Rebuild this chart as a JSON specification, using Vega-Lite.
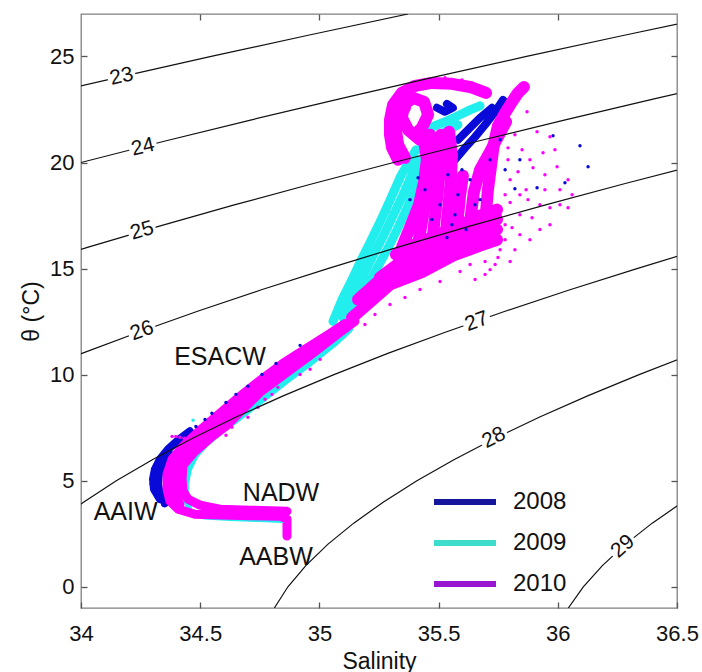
{
"$schema": "https://vega.github.io/schema/vega-lite/v6.json",
"width": 596, "height": 594,
"autosize": {"type": "none"},
"padding": {"left": 81, "top": 14, "right": 25, "bottom": 64},
"background": "white",
"config": {
 "font": "Liberation Sans",
 "view": {"stroke": "#808080", "strokeWidth": 1.3},
 "axis": {"domain": false, "grid": false, "tickColor": "#555555", "tickSize": -6, "tickWidth": 1.3, "labelFont": "Liberation Sans", "labelFontSize": 22, "labelColor": "#111111", "titleFont": "Liberation Sans", "titleFontSize": 23, "titleFontWeight": "normal", "titleColor": "#111111", "labelFlush": false, "labelOverlap": false}
},
"datasets": {
 "casts": [
{"y":"2008","c":"b1","k":1,"s":34.331,"t":4.13},{"y":"2008","c":"b1","k":2,"s":34.306,"t":4.6},{"y":"2008","c":"b1","k":3,"s":34.302,"t":5.07},{"y":"2008","c":"b1","k":4,"s":34.31,"t":5.54},{"y":"2008","c":"b1","k":5,"s":34.331,"t":6.01},{"y":"2008","c":"b1","k":6,"s":34.365,"t":6.48},{"y":"2008","c":"b1","k":7,"s":34.407,"t":6.91},{"y":"2008","c":"b1","k":8,"s":34.457,"t":7.33},
{"y":"2008","c":"b2","k":1,"s":34.352,"t":3.94},{"y":"2008","c":"b2","k":2,"s":34.331,"t":4.36},{"y":"2008","c":"b2","k":3,"s":34.323,"t":4.84},{"y":"2008","c":"b2","k":4,"s":34.327,"t":5.31},{"y":"2008","c":"b2","k":5,"s":34.344,"t":5.78},{"y":"2008","c":"b2","k":6,"s":34.373,"t":6.25},
{"y":"2008","c":"b4","k":1,"s":35.569,"t":20.13},{"y":"2008","c":"b4","k":2,"s":35.611,"t":20.69},{"y":"2008","c":"b4","k":3,"s":35.653,"t":21.21},{"y":"2008","c":"b4","k":4,"s":35.695,"t":21.78},{"y":"2008","c":"b4","k":5,"s":35.737,"t":22.39},{"y":"2008","c":"b4","k":6,"s":35.77,"t":22.95},
{"y":"2008","c":"b5","k":1,"s":35.581,"t":21.07},{"y":"2008","c":"b5","k":2,"s":35.623,"t":21.54},{"y":"2008","c":"b5","k":3,"s":35.674,"t":22.11},{"y":"2008","c":"b5","k":4,"s":35.724,"t":22.58},
{"y":"2008","c":"b6","k":1,"s":35.493,"t":22.58},{"y":"2008","c":"b6","k":2,"s":35.527,"t":22.39},{"y":"2008","c":"b6","k":3,"s":35.56,"t":22.58},{"y":"2008","c":"b6","k":4,"s":35.535,"t":22.76},
{"y":"2009","c":"c1","k":1,"s":34.864,"t":3.14},{"y":"2009","c":"c1","k":2,"s":34.751,"t":3.19},{"y":"2009","c":"c1","k":3,"s":34.625,"t":3.24},{"y":"2009","c":"c1","k":4,"s":34.52,"t":3.31},{"y":"2009","c":"c1","k":5,"s":34.457,"t":3.56},{"y":"2009","c":"c1","k":6,"s":34.44,"t":4.13},{"y":"2009","c":"c1","k":7,"s":34.44,"t":4.84},{"y":"2009","c":"c1","k":8,"s":34.453,"t":5.54},{"y":"2009","c":"c1","k":9,"s":34.482,"t":6.2},{"y":"2009","c":"c1","k":10,"s":34.524,"t":6.72},{"y":"2009","c":"c1","k":11,"s":34.583,"t":7.28},{"y":"2009","c":"c1","k":12,"s":34.667,"t":7.99},{"y":"2009","c":"c1","k":13,"s":34.759,"t":8.79},{"y":"2009","c":"c1","k":14,"s":34.86,"t":9.68},{"y":"2009","c":"c1","k":15,"s":34.961,"t":10.53},{"y":"2009","c":"c1","k":16,"s":35.065,"t":11.47},{"y":"2009","c":"c1","k":17,"s":35.128,"t":12.13},
{"y":"2009","c":"c2","k":1,"s":35.057,"t":12.51},{"y":"2009","c":"c2","k":2,"s":35.095,"t":13.54},{"y":"2009","c":"c2","k":3,"s":35.137,"t":14.48},{"y":"2009","c":"c2","k":4,"s":35.17,"t":15.28},{"y":"2009","c":"c2","k":5,"s":35.212,"t":16.22},{"y":"2009","c":"c2","k":6,"s":35.263,"t":17.4},{"y":"2009","c":"c2","k":7,"s":35.305,"t":18.44},{"y":"2009","c":"c2","k":8,"s":35.342,"t":19.38},{"y":"2009","c":"c2","k":9,"s":35.38,"t":20.13},{"y":"2009","c":"c2","k":10,"s":35.405,"t":20.6},
{"y":"2009","c":"c3","k":1,"s":35.099,"t":12.69},{"y":"2009","c":"c3","k":2,"s":35.137,"t":13.64},{"y":"2009","c":"c3","k":3,"s":35.179,"t":14.58},{"y":"2009","c":"c3","k":4,"s":35.221,"t":15.52},{"y":"2009","c":"c3","k":5,"s":35.267,"t":16.51},{"y":"2009","c":"c3","k":6,"s":35.313,"t":17.59},{"y":"2009","c":"c3","k":7,"s":35.351,"t":18.48},{"y":"2009","c":"c3","k":8,"s":35.384,"t":19.33},{"y":"2009","c":"c3","k":9,"s":35.414,"t":20.13},
{"y":"2009","c":"c4","k":1,"s":35.128,"t":12.79},{"y":"2009","c":"c4","k":2,"s":35.179,"t":13.73},{"y":"2009","c":"c4","k":3,"s":35.229,"t":14.76},{"y":"2009","c":"c4","k":4,"s":35.284,"t":15.89},{"y":"2009","c":"c4","k":5,"s":35.33,"t":16.93},{"y":"2009","c":"c4","k":6,"s":35.372,"t":17.96},{"y":"2009","c":"c4","k":7,"s":35.405,"t":18.91},{"y":"2009","c":"c4","k":8,"s":35.43,"t":19.75},
{"y":"2009","c":"c5","k":1,"s":35.409,"t":21.31},{"y":"2009","c":"c5","k":2,"s":35.464,"t":21.64},{"y":"2009","c":"c5","k":3,"s":35.527,"t":21.92},{"y":"2009","c":"c5","k":4,"s":35.59,"t":22.25},{"y":"2009","c":"c5","k":5,"s":35.632,"t":22.48},{"y":"2009","c":"c5","k":6,"s":35.674,"t":22.67},
{"y":"2009","c":"c6","k":1,"s":35.422,"t":20.6},{"y":"2009","c":"c6","k":2,"s":35.472,"t":21.02},{"y":"2009","c":"c6","k":3,"s":35.527,"t":21.45},{"y":"2009","c":"c6","k":4,"s":35.581,"t":21.78},
{"y":"2009","c":"c7","k":1,"s":35.569,"t":18.72},{"y":"2009","c":"c7","k":2,"s":35.535,"t":19.66},{"y":"2009","c":"c7","k":3,"s":35.498,"t":20.51},{"y":"2009","c":"c7","k":4,"s":35.456,"t":21.16},
{"y":"2010","c":"t1","k":1,"s":34.864,"t":2.39},{"y":"2010","c":"t1","k":2,"s":34.864,"t":3.19},{"y":"2010","c":"t1","k":3,"s":34.835,"t":3.33},{"y":"2010","c":"t1","k":4,"s":34.709,"t":3.35},{"y":"2010","c":"t1","k":5,"s":34.583,"t":3.38},{"y":"2010","c":"t1","k":6,"s":34.478,"t":3.42},{"y":"2010","c":"t1","k":7,"s":34.407,"t":3.66},{"y":"2010","c":"t1","k":8,"s":34.373,"t":4.04},{"y":"2010","c":"t1","k":9,"s":34.361,"t":4.6},{"y":"2010","c":"t1","k":10,"s":34.361,"t":5.31},{"y":"2010","c":"t1","k":11,"s":34.382,"t":6.01},{"y":"2010","c":"t1","k":12,"s":34.432,"t":6.67},{"y":"2010","c":"t1","k":13,"s":34.499,"t":7.38},{"y":"2010","c":"t1","k":14,"s":34.583,"t":8.18},{"y":"2010","c":"t1","k":15,"s":34.667,"t":8.98},{"y":"2010","c":"t1","k":16,"s":34.751,"t":9.73},{"y":"2010","c":"t1","k":17,"s":34.847,"t":10.53},{"y":"2010","c":"t1","k":18,"s":34.931,"t":11.14},{"y":"2010","c":"t1","k":19,"s":35.044,"t":11.94},{"y":"2010","c":"t1","k":20,"s":35.107,"t":12.41},
{"y":"2010","c":"t2","k":1,"s":34.415,"t":3.89},{"y":"2010","c":"t2","k":2,"s":34.394,"t":4.51},{"y":"2010","c":"t2","k":3,"s":34.394,"t":5.21},{"y":"2010","c":"t2","k":4,"s":34.407,"t":5.87},{"y":"2010","c":"t2","k":5,"s":34.453,"t":6.48},{"y":"2010","c":"t2","k":6,"s":34.516,"t":7.14},{"y":"2010","c":"t2","k":7,"s":34.596,"t":7.85},{"y":"2010","c":"t2","k":8,"s":34.675,"t":8.55},{"y":"2010","c":"t2","k":9,"s":34.751,"t":9.26},{"y":"2010","c":"t2","k":10,"s":34.856,"t":10.25},{"y":"2010","c":"t2","k":11,"s":34.944,"t":10.95},{"y":"2010","c":"t2","k":12,"s":35.057,"t":11.85},{"y":"2010","c":"t2","k":13,"s":35.12,"t":12.36},
{"y":"2010","c":"t3","k":1,"s":34.864,"t":3.56},{"y":"2010","c":"t3","k":2,"s":34.709,"t":3.61},{"y":"2010","c":"t3","k":3,"s":34.583,"t":3.66},{"y":"2010","c":"t3","k":4,"s":34.499,"t":3.85},{"y":"2010","c":"t3","k":5,"s":34.449,"t":4.13},{"y":"2010","c":"t3","k":6,"s":34.428,"t":4.51},{"y":"2010","c":"t3","k":7,"s":34.424,"t":5.07},{"y":"2010","c":"t3","k":8,"s":34.428,"t":5.73},{"y":"2010","c":"t3","k":9,"s":34.474,"t":6.34},{"y":"2010","c":"t3","k":10,"s":34.541,"t":7.0},{"y":"2010","c":"t3","k":11,"s":34.612,"t":7.61},{"y":"2010","c":"t3","k":12,"s":34.667,"t":8.22},{"y":"2010","c":"t3","k":13,"s":34.751,"t":9.16},{"y":"2010","c":"t3","k":14,"s":34.864,"t":10.11},{"y":"2010","c":"t3","k":15,"s":34.961,"t":10.91},{"y":"2010","c":"t3","k":16,"s":35.086,"t":11.99},{"y":"2010","c":"t3","k":17,"s":35.149,"t":12.51},
{"y":"2010","c":"u1","k":1,"s":35.137,"t":12.69},{"y":"2010","c":"u1","k":2,"s":35.191,"t":13.21},{"y":"2010","c":"u1","k":3,"s":35.296,"t":14.25},{"y":"2010","c":"u1","k":4,"s":35.435,"t":14.86},{"y":"2010","c":"u1","k":5,"s":35.56,"t":15.61},{"y":"2010","c":"u1","k":6,"s":35.674,"t":16.08},{"y":"2010","c":"u1","k":7,"s":35.745,"t":16.36},
{"y":"2010","c":"u2","k":1,"s":35.162,"t":13.54},{"y":"2010","c":"u2","k":2,"s":35.275,"t":14.67},{"y":"2010","c":"u2","k":3,"s":35.414,"t":15.33},{"y":"2010","c":"u2","k":4,"s":35.539,"t":16.04},{"y":"2010","c":"u2","k":5,"s":35.665,"t":16.55},{"y":"2010","c":"u2","k":6,"s":35.745,"t":16.84},
{"y":"2010","c":"u3","k":1,"s":35.254,"t":14.58},{"y":"2010","c":"u3","k":2,"s":35.338,"t":15.28},{"y":"2010","c":"u3","k":3,"s":35.43,"t":15.8},{"y":"2010","c":"u3","k":4,"s":35.539,"t":16.46},{"y":"2010","c":"u3","k":5,"s":35.665,"t":17.02},{"y":"2010","c":"u3","k":6,"s":35.745,"t":17.31},
{"y":"2010","c":"u4","k":1,"s":35.321,"t":15.66},{"y":"2010","c":"u4","k":2,"s":35.388,"t":16.08},{"y":"2010","c":"u4","k":3,"s":35.472,"t":16.46},{"y":"2010","c":"u4","k":4,"s":35.569,"t":16.93},{"y":"2010","c":"u4","k":5,"s":35.674,"t":17.49},{"y":"2010","c":"u4","k":6,"s":35.745,"t":17.78},
{"y":"2010","c":"u5","k":1,"s":35.346,"t":15.99},{"y":"2010","c":"u5","k":2,"s":35.38,"t":16.93},{"y":"2010","c":"u5","k":3,"s":35.418,"t":18.01},{"y":"2010","c":"u5","k":4,"s":35.439,"t":19.09},{"y":"2010","c":"u5","k":5,"s":35.451,"t":20.13},{"y":"2010","c":"u5","k":6,"s":35.439,"t":21.07},
{"y":"2010","c":"u6","k":1,"s":35.414,"t":16.13},{"y":"2010","c":"u6","k":2,"s":35.43,"t":17.21},{"y":"2010","c":"u6","k":3,"s":35.447,"t":18.25},{"y":"2010","c":"u6","k":4,"s":35.464,"t":19.28},{"y":"2010","c":"u6","k":5,"s":35.477,"t":20.36},{"y":"2010","c":"u6","k":6,"s":35.464,"t":21.31},
{"y":"2010","c":"u7","k":1,"s":35.472,"t":15.99},{"y":"2010","c":"u7","k":2,"s":35.481,"t":17.07},{"y":"2010","c":"u7","k":3,"s":35.493,"t":18.25},{"y":"2010","c":"u7","k":4,"s":35.502,"t":19.28},{"y":"2010","c":"u7","k":5,"s":35.51,"t":20.36},{"y":"2010","c":"u7","k":6,"s":35.51,"t":21.31},
{"y":"2010","c":"u8","k":1,"s":35.527,"t":16.13},{"y":"2010","c":"u8","k":2,"s":35.535,"t":17.21},{"y":"2010","c":"u8","k":3,"s":35.544,"t":18.25},{"y":"2010","c":"u8","k":4,"s":35.552,"t":19.28},{"y":"2010","c":"u8","k":5,"s":35.556,"t":20.36},{"y":"2010","c":"u8","k":6,"s":35.544,"t":21.45},
{"y":"2010","c":"u9","k":1,"s":35.581,"t":16.36},{"y":"2010","c":"u9","k":2,"s":35.581,"t":17.4},{"y":"2010","c":"u9","k":3,"s":35.59,"t":18.44},{"y":"2010","c":"u9","k":4,"s":35.602,"t":19.38},
{"y":"2010","c":"u10","k":1,"s":35.632,"t":16.36},{"y":"2010","c":"u10","k":2,"s":35.636,"t":17.54},{"y":"2010","c":"u10","k":3,"s":35.648,"t":18.62},{"y":"2010","c":"u10","k":4,"s":35.674,"t":19.66},{"y":"2010","c":"u10","k":5,"s":35.716,"t":20.51},{"y":"2010","c":"u10","k":6,"s":35.749,"t":21.21},{"y":"2010","c":"u10","k":7,"s":35.783,"t":21.92},
{"y":"2010","c":"u11","k":1,"s":35.69,"t":16.55},{"y":"2010","c":"u11","k":2,"s":35.699,"t":17.68},{"y":"2010","c":"u11","k":3,"s":35.707,"t":18.72},{"y":"2010","c":"u11","k":4,"s":35.72,"t":19.85},{"y":"2010","c":"u11","k":5,"s":35.732,"t":20.88},{"y":"2010","c":"u11","k":6,"s":35.749,"t":21.73},{"y":"2010","c":"u11","k":7,"s":35.779,"t":22.34},{"y":"2010","c":"u11","k":8,"s":35.808,"t":22.86},{"y":"2010","c":"u11","k":9,"s":35.833,"t":23.28},{"y":"2010","c":"u11","k":10,"s":35.858,"t":23.56},
{"y":"2010","c":"u12","k":1,"s":35.33,"t":20.13},{"y":"2010","c":"u12","k":2,"s":35.305,"t":20.69},{"y":"2010","c":"u12","k":3,"s":35.296,"t":21.31},{"y":"2010","c":"u12","k":4,"s":35.296,"t":22.01},{"y":"2010","c":"u12","k":5,"s":35.309,"t":22.72},{"y":"2010","c":"u12","k":6,"s":35.346,"t":23.28},{"y":"2010","c":"u12","k":7,"s":35.401,"t":23.61},{"y":"2010","c":"u12","k":8,"s":35.472,"t":23.75},{"y":"2010","c":"u12","k":9,"s":35.556,"t":23.71},{"y":"2010","c":"u12","k":10,"s":35.632,"t":23.56},{"y":"2010","c":"u12","k":11,"s":35.699,"t":23.28},
{"y":"2010","c":"u13","k":1,"s":35.422,"t":21.07},{"y":"2010","c":"u13","k":2,"s":35.372,"t":21.54},{"y":"2010","c":"u13","k":3,"s":35.346,"t":22.11},{"y":"2010","c":"u13","k":4,"s":35.355,"t":22.72},{"y":"2010","c":"u13","k":5,"s":35.393,"t":23.05},{"y":"2010","c":"u13","k":6,"s":35.439,"t":22.86},{"y":"2010","c":"u13","k":7,"s":35.456,"t":22.25},{"y":"2010","c":"u13","k":8,"s":35.43,"t":21.64},{"y":"2010","c":"u13","k":9,"s":35.401,"t":21.31},
{"y":"2010","c":"u14","k":1,"s":35.359,"t":20.22},{"y":"2010","c":"u14","k":2,"s":35.33,"t":20.84},{"y":"2010","c":"u14","k":3,"s":35.321,"t":21.54},{"y":"2010","c":"u14","k":4,"s":35.33,"t":22.25},{"y":"2010","c":"u14","k":5,"s":35.359,"t":22.58}
 ],
 "dots": [
{"y":"2008","s":34.424,"t":7.09},{"y":"2008","s":34.482,"t":7.56},{"y":"2008","s":34.52,"t":7.89},{"y":"2008","s":34.549,"t":8.18},{"y":"2008","s":34.608,"t":8.69},{"y":"2008","s":34.65,"t":9.07},{"y":"2008","s":34.7,"t":9.45},{"y":"2008","s":34.759,"t":10.01},{"y":"2008","s":34.818,"t":10.53},{"y":"2008","s":34.919,"t":11.38},{"y":"2008","s":34.294,"t":4.84},{"y":"2008","s":34.298,"t":5.16},{"y":"2008","s":34.315,"t":4.27},{"y":"2008","s":34.344,"t":3.85},{"y":"2008","s":35.38,"t":18.25},{"y":"2008","s":35.443,"t":18.72},{"y":"2008","s":35.506,"t":18.01},{"y":"2008","s":35.569,"t":17.54},{"y":"2008","s":35.472,"t":17.31},{"y":"2008","s":35.414,"t":19.28},{"y":"2008","s":35.535,"t":16.46},{"y":"2008","s":35.598,"t":19.66},{"y":"2008","s":35.632,"t":19.19},{"y":"2008","s":35.539,"t":19.42},{"y":"2008","s":35.581,"t":18.48},{"y":"2008","s":35.653,"t":18.01},{"y":"2008","s":35.556,"t":17.07},{"y":"2008","s":35.615,"t":16.84},{"y":"2008","s":35.758,"t":21.07},{"y":"2008","s":35.82,"t":18.76},{"y":"2008","s":35.913,"t":18.81},{"y":"2008","s":35.98,"t":21.26},{"y":"2008","s":36.03,"t":19.05},{"y":"2008","s":36.093,"t":20.79},{"y":"2008","s":36.127,"t":19.8},{"y":"2008","s":35.779,"t":19.66},{"y":"2008","s":35.716,"t":20.13},{"y":"2008","s":35.841,"t":20.13},{"y":"2008","s":35.674,"t":18.25},
{"y":"2009","s":35.237,"t":16.69},{"y":"2009","s":35.291,"t":17.68},{"y":"2009","s":35.334,"t":18.25},{"y":"2009","s":35.195,"t":15.52},{"y":"2009","s":35.149,"t":14.34},{"y":"2009","s":34.47,"t":7.85},
{"y":"2010","s":35.758,"t":21.54},{"y":"2010","s":35.791,"t":20.69},{"y":"2010","s":35.82,"t":21.31},{"y":"2010","s":35.85,"t":20.6},{"y":"2010","s":35.871,"t":22.39},{"y":"2010","s":35.913,"t":21.45},{"y":"2010","s":35.883,"t":20.13},{"y":"2010","s":35.938,"t":20.46},{"y":"2010","s":35.967,"t":21.21},{"y":"2010","s":35.997,"t":19.8},{"y":"2010","s":35.896,"t":19.75},{"y":"2010","s":35.8,"t":19.19},{"y":"2010","s":35.841,"t":18.48},{"y":"2010","s":35.946,"t":18.72},{"y":"2010","s":36.009,"t":18.01},{"y":"2010","s":36.043,"t":19.19},{"y":"2010","s":35.967,"t":17.87},{"y":"2010","s":36.043,"t":17.87},{"y":"2010","s":35.892,"t":17.4},{"y":"2010","s":35.8,"t":18.11},{"y":"2010","s":35.779,"t":17.07},{"y":"2010","s":35.841,"t":16.6},{"y":"2010","s":35.925,"t":16.84},{"y":"2010","s":35.758,"t":15.89},{"y":"2010","s":35.82,"t":15.89},{"y":"2010","s":35.737,"t":15.19},{"y":"2010","s":35.8,"t":15.33},{"y":"2010","s":35.695,"t":14.72},{"y":"2010","s":35.653,"t":14.48},{"y":"2010","s":35.758,"t":17.54},{"y":"2010","s":35.875,"t":18.25},{"y":"2010","s":35.946,"t":19.42},{"y":"2010","s":35.988,"t":20.6},{"y":"2010","s":36.06,"t":18.48},
{"y":"2010","s":35.779,"t":16.36},{"y":"2010","s":35.808,"t":16.93},{"y":"2010","s":35.749,"t":15.52},{"y":"2010","s":35.695,"t":15.33},{"y":"2010","s":35.841,"t":17.54},{"y":"2010","s":35.883,"t":16.36},{"y":"2010","s":35.779,"t":18.48},{"y":"2010","s":35.791,"t":20.13},{"y":"2010","s":35.833,"t":19.56},{"y":"2010","s":35.867,"t":18.72},{"y":"2010","s":35.716,"t":14.95},{"y":"2010","s":35.632,"t":15.19},{"y":"2010","s":35.925,"t":18.01},{"y":"2010","s":35.967,"t":17.07},{"y":"2010","s":36.009,"t":18.72},
{"y":"2010","s":35.233,"t":12.84},{"y":"2010","s":35.296,"t":13.31},{"y":"2010","s":35.359,"t":13.64},{"y":"2010","s":35.191,"t":12.36},{"y":"2010","s":35.422,"t":14.01},{"y":"2010","s":35.506,"t":14.39},{"y":"2010","s":35.59,"t":14.86},
{"y":"2010","s":34.772,"t":8.84},{"y":"2010","s":34.801,"t":9.07},{"y":"2010","s":34.826,"t":9.4},{"y":"2010","s":34.742,"t":8.46},{"y":"2010","s":34.7,"t":7.99},{"y":"2010","s":34.633,"t":7.52},{"y":"2010","s":34.608,"t":7.14},{"y":"2010","s":34.919,"t":10.01},{"y":"2010","s":34.961,"t":10.25},{"y":"2010","s":35.003,"t":10.72},
{"y":"2010","s":34.382,"t":7.09},{"y":"2010","s":34.398,"t":7.09},{"y":"2010","s":34.415,"t":7.05},{"y":"2010","s":34.432,"t":7.0},{"y":"2010","s":34.449,"t":6.95},
{"y":"2010","s":35.527,"t":23.99},{"y":"2010","s":35.598,"t":23.89}
 ],
 "iso": [
{"d":23,"s":33.767,"t":23},{"d":23,"s":34.151,"t":24},{"d":23,"s":34.546,"t":25},{"d":23,"s":34.953,"t":26},{"d":23,"s":35.372,"t":27},
{"d":24,"s":33.663,"t":19},{"d":24,"s":34.0,"t":20},{"d":24,"s":34.349,"t":21},{"d":24,"s":34.711,"t":22},{"d":24,"s":35.085,"t":23},{"d":24,"s":35.471,"t":24},{"d":24,"s":35.869,"t":25},{"d":24,"s":36.279,"t":26},{"d":24,"s":36.699,"t":27},
{"d":25,"s":33.739,"t":15},{"d":25,"s":34.027,"t":16},{"d":25,"s":34.329,"t":17},{"d":25,"s":34.643,"t":18},{"d":25,"s":34.971,"t":19},{"d":25,"s":35.311,"t":20},{"d":25,"s":35.663,"t":21},{"d":25,"s":36.027,"t":22},{"d":25,"s":36.404,"t":23},{"d":25,"s":36.792,"t":24},
{"d":26,"s":33.781,"t":10},{"d":26,"s":34.004,"t":11},{"d":26,"s":34.241,"t":12},{"d":26,"s":34.492,"t":13},{"d":26,"s":34.757,"t":14},{"d":26,"s":35.035,"t":15},{"d":26,"s":35.327,"t":16},{"d":26,"s":35.631,"t":17},{"d":26,"s":35.949,"t":18},{"d":26,"s":36.279,"t":19},{"d":26,"s":36.622,"t":20},
{"d":27,"s":33.891,"t":3},{"d":27,"s":34.012,"t":4},{"d":27,"s":34.148,"t":5},{"d":27,"s":34.301,"t":6},{"d":27,"s":34.468,"t":7},{"d":27,"s":34.651,"t":8},{"d":27,"s":34.848,"t":9},{"d":27,"s":35.061,"t":10},{"d":27,"s":35.287,"t":11},{"d":27,"s":35.528,"t":12},{"d":27,"s":35.782,"t":13},{"d":27,"s":36.051,"t":14},{"d":27,"s":36.332,"t":15},{"d":27,"s":36.627,"t":16},
{"d":28,"s":34.811,"t":-1},{"d":28,"s":34.868,"t":0},{"d":28,"s":34.943,"t":1},{"d":28,"s":35.035,"t":2},{"d":28,"s":35.144,"t":3},{"d":28,"s":35.269,"t":4},{"d":28,"s":35.409,"t":5},{"d":28,"s":35.566,"t":6},{"d":28,"s":35.737,"t":7},{"d":28,"s":35.924,"t":8},{"d":28,"s":36.125,"t":9},{"d":28,"s":36.341,"t":10},{"d":28,"s":36.571,"t":11},
{"d":29,"s":36.044,"t":-1},{"d":29,"s":36.107,"t":0},{"d":29,"s":36.187,"t":1},{"d":29,"s":36.283,"t":2},{"d":29,"s":36.396,"t":3},{"d":29,"s":36.525,"t":4}
 ],
 "labs": [
{"d":23,"s":34.17,"t":24.05},{"d":24,"s":34.26,"t":20.72},{"d":25,"s":34.256,"t":16.78},{"d":26,"s":34.256,"t":12.06},{"d":27,"s":35.66,"t":12.5},{"d":28,"s":35.732,"t":7.02},{"d":29,"s":36.273,"t":1.9}
 ],
 "ann": [
{"n":"ESACW","s":34.583,"t":10.81},{"n":"NADW","s":34.839,"t":4.41},{"n":"AAIW","s":34.187,"t":3.54},{"n":"AABW","s":34.818,"t":1.42}
 ]
},
"layer": [
 {
  "encoding": {
   "x": {"field": "s", "type": "quantitative", "scale": {"domain": [34, 36.5], "nice": false, "zero": false},
         "axis": {"values": [34, 34.5, 35, 35.5, 36, 36.5], "format": "~g", "labelPadding": 21, "title": "Salinity", "titleX": 298, "titleY": 60, "titleBaseline": "alphabetic"}},
   "y": {"field": "t", "type": "quantitative", "scale": {"domain": [-1, 27], "nice": false, "zero": false},
         "axis": {"values": [0, 5, 10, 15, 20, 25], "labelPadding": 13, "title": "θ (°C)", "titleX": -43, "titleY": 297, "titleBaseline": "alphabetic"}}
  },
  "layer": [
   {"data": {"name": "casts"}, "transform": [{"filter": "datum.y == '2008'"}],
    "mark": {"type": "line", "color": "#0a0ad8", "strokeWidth": 8, "strokeCap": "round", "strokeJoin": "round"},
    "encoding": {"detail": {"field": "c", "type": "nominal"}, "order": {"field": "k", "type": "quantitative"}}},
   {"data": {"name": "casts"}, "transform": [{"filter": "datum.c == 'c1'"}],
    "mark": {"type": "line", "color": "#22eeee", "strokeWidth": 6, "strokeCap": "round", "strokeJoin": "round"},
    "encoding": {"detail": {"field": "c", "type": "nominal"}, "order": {"field": "k", "type": "quantitative"}}},
   {"data": {"name": "casts"}, "transform": [{"filter": "datum.y == '2009' && datum.c != 'c1'"}],
    "mark": {"type": "line", "color": "#22eeee", "strokeWidth": 9, "strokeCap": "round", "strokeJoin": "round"},
    "encoding": {"detail": {"field": "c", "type": "nominal"}, "order": {"field": "k", "type": "quantitative"}}},
   {"data": {"name": "casts"}, "transform": [{"filter": "datum.y == '2010' && indexof(datum.c, 't') == 0"}],
    "mark": {"type": "line", "color": "#ff00ff", "strokeWidth": 9, "strokeCap": "round", "strokeJoin": "round"},
    "encoding": {"detail": {"field": "c", "type": "nominal"}, "order": {"field": "k", "type": "quantitative"}}},
   {"data": {"name": "casts"}, "transform": [{"filter": "datum.y == '2010' && indexof(datum.c, 'u') == 0"}],
    "mark": {"type": "line", "color": "#ff00ff", "strokeWidth": 12, "strokeCap": "round", "strokeJoin": "round"},
    "encoding": {"detail": {"field": "c", "type": "nominal"}, "order": {"field": "k", "type": "quantitative"}}},
   {"data": {"name": "dots"}, "transform": [{"filter": "datum.y == '2008'"}],
    "mark": {"type": "point", "filled": true, "size": 12, "color": "#0a0ad8", "opacity": 1}},
   {"data": {"name": "dots"}, "transform": [{"filter": "datum.y == '2009'"}],
    "mark": {"type": "point", "filled": true, "size": 12, "color": "#22eeee", "opacity": 1}},
   {"data": {"name": "dots"}, "transform": [{"filter": "datum.y == '2010'"}],
    "mark": {"type": "point", "filled": true, "size": 12, "color": "#ff00ff", "opacity": 1}},
   {"data": {"name": "iso"},
    "mark": {"type": "line", "color": "#111111", "strokeWidth": 1.2, "clip": true},
    "encoding": {"detail": {"field": "d", "type": "nominal"}, "order": {"field": "t", "type": "quantitative"}}},
   {"data": {"name": "labs"}, "transform": [{"filter": "datum.d == 23 || datum.d == 24"}],
    "layer": [
     {"mark": {"type": "point", "shape": "M-1,-0.62L1,-0.62L1,0.62L-1,0.62Z", "size": 784, "filled": true, "color": "white", "opacity": 1, "angle": -13}},
     {"mark": {"type": "text", "angle": -13, "fontSize": 21, "align": "center", "baseline": "middle", "color": "#111111"}, "encoding": {"text": {"field": "d", "type": "nominal"}}}
    ]},
   {"data": {"name": "labs"}, "transform": [{"filter": "datum.d == 25"}],
    "layer": [
     {"mark": {"type": "point", "shape": "M-1,-0.62L1,-0.62L1,0.62L-1,0.62Z", "size": 784, "filled": true, "color": "white", "opacity": 1, "angle": -16}},
     {"mark": {"type": "text", "angle": -16, "fontSize": 21, "align": "center", "baseline": "middle", "color": "#111111"}, "encoding": {"text": {"field": "d", "type": "nominal"}}}
    ]},
   {"data": {"name": "labs"}, "transform": [{"filter": "datum.d == 26 || datum.d == 27"}],
    "layer": [
     {"mark": {"type": "point", "shape": "M-1,-0.62L1,-0.62L1,0.62L-1,0.62Z", "size": 784, "filled": true, "color": "white", "opacity": 1, "angle": -19.5}},
     {"mark": {"type": "text", "angle": -19.5, "fontSize": 21, "align": "center", "baseline": "middle", "color": "#111111"}, "encoding": {"text": {"field": "d", "type": "nominal"}}}
    ]},
   {"data": {"name": "labs"}, "transform": [{"filter": "datum.d == 28"}],
    "layer": [
     {"mark": {"type": "point", "shape": "M-1,-0.62L1,-0.62L1,0.62L-1,0.62Z", "size": 784, "filled": true, "color": "white", "opacity": 1, "angle": -26.5}},
     {"mark": {"type": "text", "angle": -26.5, "fontSize": 21, "align": "center", "baseline": "middle", "color": "#111111"}, "encoding": {"text": {"field": "d", "type": "nominal"}}}
    ]},
   {"data": {"name": "labs"}, "transform": [{"filter": "datum.d == 29"}],
    "layer": [
     {"mark": {"type": "point", "shape": "M-1,-0.62L1,-0.62L1,0.62L-1,0.62Z", "size": 784, "filled": true, "color": "white", "opacity": 1, "angle": -42}},
     {"mark": {"type": "text", "angle": -42, "fontSize": 21, "align": "center", "baseline": "middle", "color": "#111111"}, "encoding": {"text": {"field": "d", "type": "nominal"}}}
    ]},
   {"data": {"name": "ann"},
    "mark": {"type": "text", "fontSize": 25, "align": "center", "baseline": "middle", "color": "#111111"},
    "encoding": {"text": {"field": "n", "type": "nominal"}}},
   {"data": {"name": "dots"}, "transform": [{"filter": "false"}],
    "mark": {"type": "line"},
    "encoding": {"color": {"field": "y", "type": "nominal",
      "scale": {"domain": ["2008", "2009", "2010"], "range": ["#16169c", "#3edccc", "#9616d2"]},
      "legend": {"orient": "none", "legendX": 350, "legendY": 473, "title": null, "symbolType": "stroke", "symbolSize": 3844, "symbolStrokeWidth": 6, "labelFontSize": 24, "labelFont": "Liberation Sans", "labelColor": "#111111", "labelOffset": 14, "rowPadding": 11, "clipHeight": 30, "padding": 0}}}}
  ]
 },
 {
  "data": {"name": "labs"}, "transform": [{"filter": "false"}],
  "mark": {"type": "point"},
  "encoding": {
   "x": {"field": "s", "type": "quantitative", "scale": {"domain": [34, 36.5], "nice": false, "zero": false},
         "axis": {"orient": "top", "labels": false, "title": null, "values": [34.5, 35, 35.5, 36]}},
   "y": {"field": "t", "type": "quantitative", "scale": {"domain": [-1, 27], "nice": false, "zero": false},
         "axis": {"orient": "right", "labels": false, "title": null, "values": [0, 5, 10, 15, 20, 25]}}
  }
 }
],
"resolve": {"axis": {"x": "independent", "y": "independent"}}
}
